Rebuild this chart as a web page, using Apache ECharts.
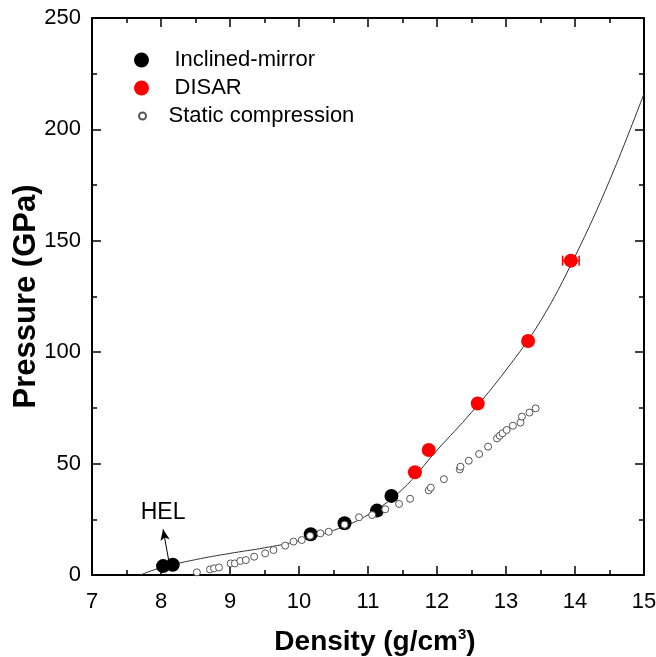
<!DOCTYPE html>
<html>
<head>
<meta charset="utf-8">
<script src="https://cdn.jsdelivr.net/npm/echarts@6/dist/echarts.min.js"></script>
<style>
  html, body { margin: 0; padding: 0; background: #fff; }
  #main { width: 656px; height: 657px; }
</style>
</head>
<body>
<div id="main"></div>
<script>
// values
var mirrorX = [8.03, 8.17, 10.17, 10.66, 11.13, 11.34];
var mirrorP = [4.0, 4.6, 18.3, 23.2, 28.9, 35.5];

var disarX = [11.68, 11.88, 12.59, 13.32, 13.94];
var disarP = [46.1, 56.1, 77.0, 105.0, 141.1];
var disarErrX = [0, 0, 0, 0, 0.12];   // horizontal error half width

var staticX = [8.52, 8.71, 8.77, 8.84, 9.01, 9.07, 9.15, 9.23, 9.35, 9.51, 9.63, 9.80, 9.92, 10.04,
               10.16, 10.31, 10.43, 10.66, 10.87, 11.06, 11.25, 11.45, 11.61, 11.88, 11.91, 12.10,
               12.33, 12.34, 12.46, 12.61, 12.74, 12.87, 12.91, 12.95, 13.01, 13.10, 13.21, 13.23,
               13.34, 13.43];
var staticP = [1.2, 2.5, 3.0, 3.4, 5.2, 5.2, 6.3, 6.7, 8.2, 9.7, 11.2, 13.2, 15.0, 15.7,
               17.6, 18.7, 19.4, 22.6, 25.9, 26.9, 29.5, 31.9, 34.2, 38.0, 39.2, 43.0,
               47.4, 48.6, 51.3, 54.3, 57.6, 61.3, 62.5, 63.6, 65.1, 67.0, 68.4, 71.1,
               72.9, 74.8];

// fitted curve
var fitX = [7.7, 8.0, 8.5, 9.0, 9.5, 10.0, 10.5, 11.0, 11.5, 12.0, 12.5, 13.0, 13.5, 14.0, 14.5, 15.0];
var fitP = [0, 3.3, 6.9, 9.7, 12.2, 15.3, 20.0, 27.0, 38.5, 56.0, 73.0, 92.0, 114.0, 143.0, 177.0, 216.0];

var xTicks = { min: 7, max: 15, step: 1 };
var yTicks = { min: 0, max: 250, step: 50 };

function zip(a, b) {
	var out = [];
	for (var i = 0; i < a.length; i++) { out.push([a[i], b[i]]); }
	return out;
}

var FONT = 'Liberation Sans, Arial, sans-serif';

function baseAxis(range, pos) {
	return {
		type: 'value',
		position: pos,
		min: range.min,
		max: range.max,
		interval: range.step,
		nameMoveOverlap: false,
		axisLine: { show: true, onZero: false, lineStyle: { color: '#000', width: 2 } },
		axisTick: { show: true, inside: true, length: 9, lineStyle: { color: '#000', width: 1.5 } },
		minorTick: { show: true, splitNumber: 2, length: 5, lineStyle: { color: '#000', width: 1.5 } },
		splitLine: { show: false },
		minorSplitLine: { show: false }
	};
}

var xBottom = baseAxis(xTicks, 'bottom');
xBottom.axisLabel = { color: '#000', fontSize: 22, fontFamily: FONT, margin: 16 };
xBottom.name = '{a|Density (g/cm}{s|3}{a|)}';
xBottom.nameLocation = 'middle';
xBottom.nameGap = 52;
xBottom.nameTextStyle = {
	padding: [0, 0, 0, 14],
	rich: {
		a: { fontSize: 28, fontWeight: 'bold', fontFamily: FONT, color: '#000', verticalAlign: 'bottom' },
		s: { fontSize: 15, fontWeight: 'bold', fontFamily: FONT, color: '#000', verticalAlign: 'top', padding: [0, 0, 14, 0] }
	}
};
var xTop = baseAxis(xTicks, 'top');
xTop.axisLabel = { show: false };

var yLeft = baseAxis(yTicks, 'left');
yLeft.axisLabel = { color: '#000', fontSize: 22, fontFamily: FONT, margin: 11 };
yLeft.name = 'Pressure (GPa)';
yLeft.nameLocation = 'middle';
yLeft.nameGap = 50;
yLeft.nameTextStyle = { fontSize: 31, fontWeight: 'bold', fontFamily: FONT, color: '#000' };
var yRight = baseAxis(yTicks, 'right');
yRight.axisLabel = { show: false };

function legendBox(name, top, left, w, h) {
	return {
		data: [{ name: name, icon: 'circle' }],
		orient: 'vertical',
		left: left,
		top: top,
		padding: 0,
		itemWidth: w,
		itemHeight: h,
		selectedMode: false,
		textStyle: { fontSize: 22, fontFamily: FONT, color: '#000' }
	};
}

var errData = [];
for (var i = 0; i < disarX.length; i++) {
	if (disarErrX[i] > 0) {
		errData.push([disarX[i], disarP[i], disarX[i] - disarErrX[i], disarX[i] + disarErrX[i]]);
	}
}

var option = {
	animation: false,
	backgroundColor: '#fff',
	grid: { left: 92, right: 12, top: 18, bottom: 82, outerBoundsMode: 'none', containLabel: false },
	legend: [
		legendBox('Inclined-mirror', 49, 134, 56, 15),
		legendBox('DISAR', 77, 134, 56, 15),
		legendBox('Static compression', 105, 138, 42, 7)
	],
	xAxis: [xBottom, xTop],
	yAxis: [yLeft, yRight],
	series: [
		{
			name: 'fit',
			type: 'line',
			data: zip(fitX, fitP),
			smooth: 0.4,
			symbol: 'none',
			lineStyle: { color: '#333', width: 1 },
			z: 1
		},
		{
			name: 'Inclined-mirror',
			type: 'scatter',
			data: zip(mirrorX, mirrorP),
			symbol: 'circle',
			symbolSize: 14,
			itemStyle: { color: '#000', opacity: 1 },
			z: 2,
			markLine: {
				silent: true,
				symbol: ['none', 'arrow'],
				symbolSize: [7, 11],
				lineStyle: { color: '#000', width: 1, type: 'solid' },
				label: { show: false },
				data: [[{ coord: [8.12, 5.2] }, { coord: [8.03, 20.5] }]]
			},
			markPoint: {
				silent: true,
				symbol: 'circle',
				symbolSize: 0,
				label: { show: true, formatter: 'HEL', fontSize: 23, fontFamily: FONT, color: '#000', position: 'inside' },
				data: [{ coord: [8.03, 28.0] }]
			}
		},
		{
			name: 'DISAR',
			type: 'scatter',
			data: zip(disarX, disarP),
			symbol: 'circle',
			symbolSize: 14,
			itemStyle: { color: '#ff0000', opacity: 1 },
			z: 3
		},
		{
			name: 'DISAR err',
			type: 'custom',
			data: errData,
			z: 3,
			renderItem: function (params, api) {
				var y = api.value(1);
				var a = api.coord([api.value(2), y]);
				var b = api.coord([api.value(3), y]);
				var h = 5;
				var st = { stroke: '#ff0000', lineWidth: 1.5 };
				return {
					type: 'group',
					children: [
						{ type: 'line', shape: { x1: a[0], y1: a[1], x2: b[0], y2: b[1] }, style: st },
						{ type: 'line', shape: { x1: a[0], y1: a[1] - h, x2: a[0], y2: a[1] + h }, style: st },
						{ type: 'line', shape: { x1: b[0], y1: b[1] - h, x2: b[0], y2: b[1] + h }, style: st }
					]
				};
			}
		},
		{
			name: 'Static compression',
			type: 'scatter',
			data: zip(staticX, staticP),
			symbol: 'circle',
			symbolSize: 7,
			itemStyle: { color: '#fff', borderColor: '#555', borderWidth: 1, opacity: 1 },
			z: 4
		}
	]
};

var myChart = echarts.init(document.getElementById('main'));
myChart.setOption(option);
</script>
</body>
</html>
